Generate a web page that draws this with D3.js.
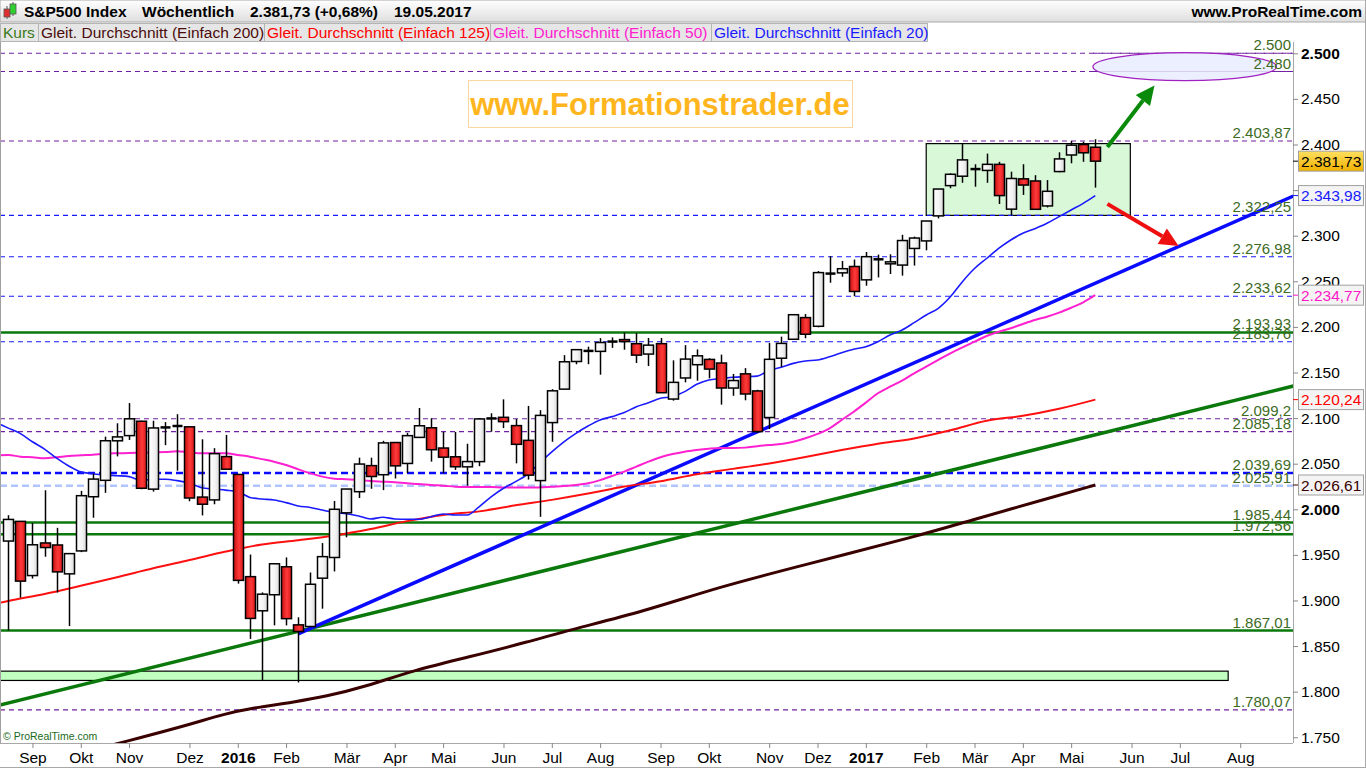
<!DOCTYPE html>
<html><head><meta charset="utf-8">
<script src="https://cdn.jsdelivr.net/npm/d3@7"></script>
<style>body{margin:0;background:#fff;overflow:hidden}svg{display:block;font-family:"Liberation Sans",Arial,sans-serif}</style>
</head><body><svg id="c" width="1366" height="768"></svg>
<script>
// ---------------- DATA ----------------
const firstWeek = "2015-08-24"; // Monday of first weekly candle
const open  = [1965.15,1986.73,1927.30,1963.06,1960.84,1929.18,1954.33,2013.73,2031.73,2075.08,2080.76,2096.56,2022.08,2089.41,2090.95,2090.42,2013.37,2010.27,2057.77,2038.20,1926.12,1888.66,1906.28,1936.94,1873.25,1871.44,1924.44,1947.13,1996.11,2019.27,2047.88,2037.89,2073.19,2050.23,2078.83,2089.37,2067.17,2057.55,2046.53,2052.23,2100.13,2100.83,2091.75,2075.58,2031.45,2095.05,2131.72,2162.04,2173.71,2173.15,2183.76,2186.08,2181.58,2170.19,2181.61,2120.86,2143.99,2158.54,2164.33,2160.39,2132.95,2148.50,2129.78,2100.59,2165.64,2186.43,2210.21,2200.65,2258.83,2259.24,2266.23,2251.57,2273.59,2269.14,2267.78,2286.01,2294.28,2321.72,2354.91,2365.23,2373.50,2371.56,2378.24,2329.11,2362.34,2360.00,2332.62,2370.33,2388.50,2399.94,2397.00];
const high  = [1993.48,1986.73,1985.00,2020.86,1979.64,1951.83,2020.13,2039.12,2079.66,2094.32,2116.48,2097.00,2097.06,2095.61,2104.27,2090.42,2076.72,2067.00,2081.56,2038.20,1950.33,1908.85,1940.24,1947.20,1881.60,1930.68,1962.96,2009.13,2022.37,2056.60,2056.60,2075.07,2073.19,2083.82,2111.05,2099.89,2084.87,2084.87,2071.88,2100.00,2105.26,2120.55,2099.00,2113.32,2108.71,2131.71,2169.05,2175.63,2178.29,2187.66,2188.45,2193.81,2193.42,2187.87,2187.87,2163.30,2179.99,2175.30,2165.60,2169.60,2148.44,2154.79,2131.00,2182.30,2189.28,2214.10,2214.10,2261.20,2277.53,2272.30,2273.82,2282.10,2279.27,2279.60,2300.99,2299.00,2316.10,2351.31,2368.40,2400.98,2378.30,2390.01,2381.00,2370.20,2378.36,2366.37,2361.00,2391.43,2403.87,2403.00,2405.77];
const low   = [1867.01,1903.07,1924.00,1948.00,1908.77,1871.91,1953.00,1990.73,2018.00,2058.00,2076.00,2022.00,2019.39,2070.29,2042.35,2008.80,1993.26,2005.50,2043.62,1918.46,1857.83,1812.29,1872.70,1872.65,1810.10,1871.44,1891.00,1931.81,1969.25,2012.34,2022.49,2021.00,2033.80,2039.74,2078.46,2052.28,2039.45,2043.13,2025.91,2047.26,2085.05,2089.00,2050.37,2032.57,1991.68,2074.02,2131.72,2159.01,2159.07,2147.58,2177.00,2175.00,2160.39,2157.03,2127.81,2119.12,2139.17,2141.00,2143.60,2114.72,2124.43,2119.50,2083.79,2088.00,2156.08,2186.43,2187.50,2199.50,2248.44,2255.00,2233.62,2245.13,2254.25,2258.00,2256.20,2267.21,2284.00,2319.00,2352.00,2358.00,2353.70,2358.00,2334.80,2322.25,2344.73,2328.95,2331.00,2369.50,2379.40,2381.00,2352.72];
const close = [1988.87,1921.22,1961.05,1958.03,1931.34,1951.36,2014.89,2033.11,2075.15,2079.36,2099.20,2023.04,2089.17,2090.11,2091.69,2012.37,2005.55,2060.99,2043.94,1922.03,1880.33,1906.90,1940.24,1880.05,1866.00,1917.78,1948.05,1999.99,2022.19,2049.58,2035.94,2072.78,2047.60,2080.73,2091.58,2065.30,2057.14,2046.61,2052.32,2099.06,2099.13,2096.07,2071.22,2037.41,2102.95,2129.90,2161.74,2175.03,2173.60,2182.87,2184.05,2183.87,2169.04,2179.98,2127.81,2139.16,2164.69,2168.27,2153.74,2132.98,2141.16,2126.41,2085.18,2164.45,2181.90,2213.35,2191.95,2259.53,2258.07,2263.79,2238.83,2276.98,2274.64,2271.31,2294.69,2297.42,2316.10,2351.16,2367.34,2383.12,2372.60,2378.25,2343.98,2362.72,2355.54,2328.95,2348.69,2384.20,2399.29,2390.90,2381.73];

// moving averages, weekly from index -1
const sma20 = [2095,2089,2083,2074,2066,2056,2047.5,2041,2039,2037.6,2036.8,2035.8,2031.4,2033,2033,2031.4,2028.5,2023.7,2022.2,2021,2019.3,2013,2011.3,2010.2,2007.3,2003.6,2002,1999.2,1996.3,1995,1992.7,1989.4,1991.2,1989.4,1989,1989,1991.9,1994.8,1993.7,1993.7,2003,2013.8,2023,2030.3,2038.4,2051,2063,2074,2083.3,2091.3,2098,2101.6,2106,2112.5,2116.9,2121.7,2123.5,2129,2137,2141.8,2143.2,2144.7,2145.4,2146,2152.3,2155.7,2160,2162.6,2163.7,2167.3,2171.7,2175.4,2178.3,2183.8,2191.1,2196.6,2204.6,2213,2220.4,2233,2249.6,2264,2275,2286,2295.3,2302.6,2307.7,2313.6,2320.9,2328.2,2335.5,2343.98];
const sma50 = [2059,2059.5,2057.7,2057,2056,2057,2058.4,2059.2,2059.9,2061,2061.4,2061.7,2062.1,2062.5,2062.8,2063.6,2062.5,2061.4,2061.4,2061.4,2059.5,2057.7,2055,2052.2,2048.6,2043.9,2039.5,2035.8,2033.6,2032.9,2032,2031,2030.3,2029.6,2028.5,2027.7,2026.6,2025.9,2024.8,2024.4,2024.4,2024.4,2024,2024,2024,2024,2024.8,2025.5,2026.6,2028.5,2032,2036.5,2041.3,2046.8,2052.2,2057,2060.6,2063.2,2065,2066.4,2067.2,2067.2,2067.6,2069.2,2070.5,2071.6,2074,2077.8,2082.6,2088.8,2097.9,2107,2116.9,2127.2,2134.4,2141,2149.1,2156.4,2163.7,2171,2177.6,2183.8,2190,2194.7,2198.5,2203.2,2207.6,2211.2,2215.6,2221,2227,2234.77];
const sma125Weeks = [-1,0,3,6,9,12,15,18,21,24,27,30,33,36,39,42,45,48,51,54,57,60,63,66,69,72,75,78,81,84,87,90];
const sma125 = [1896.7,1899.5,1907.1,1916.1,1925.5,1935.3,1944.3,1953.6,1961.4,1966.1,1971.3,1978.4,1987,1993.8,1997.7,2004.3,2010.3,2017.2,2024.9,2030.8,2038.5,2044.3,2050.3,2057.3,2064.9,2071.9,2077.7,2086.6,2097.1,2102.5,2110.2,2120.24];
const sma200Weeks = [8,9.15,14.38,18.11,20.09,23.85,26.21,29.59,33.65,38.05,43.11,46.49,52.57,58.92,65.55,75.9,79.21,86.25,90];
const sma200 = [1739.5,1743.4,1761.6,1776.3,1781.8,1789.0,1794.5,1805.5,1823.8,1837.7,1854.8,1867.7,1887.7,1915.1,1937.7,1972.9,1986.1,2012.4,2026.61];

// horizontal levels
const purpleLevels = [2500, 2480, 2403.87, 2099.2, 2085.18, 1780.07];
const blueLevels   = [2322.25, 2276.98, 2233.62, 2183.76];
const greenLevels  = [2193.93, 1985.44, 1972.56, 1867.01];
const blueBoldLevels = [2039.69];
const lightBlueLevels = [2025.91];
const levelLabels = {2500:"2.500",2480:"2.480",2403.87:"2.403,87",2099.2:"2.099,2",2085.18:"2.085,18",1780.07:"1.780,07",2322.25:"2.322,25",2276.98:"2.276,98",2233.62:"2.233,62",2183.76:"2.183,76",2193.93:"2.193,93",1985.44:"1.985,44",1972.56:"1.972,56",1867.01:"1.867,01",2039.69:"2.039,69",2025.91:"2.025,91"};

// trend lines: [week index, value]
const blueTrend  = [[24, 1863.3], [106.4, 2343.5]];
const greenTrend = [[-0.7, 1785.4], [106.4, 2135.2]];
// consolidation box, band, target ellipse, arrows (week index / value)
const boxWeeks = [76.0, 92.9], boxValues = [2322.25, 2400.98];
const bandWeeks = [-1, 101.0], bandValues = [1812.29, 1822.5];
const ellipseWeeks = [89.8, 105.0], ellipseValues = [2470, 2500.7];
const upArrow   = [[91.0, 2397.3], [94.9, 2464.7]];
const downArrow = [[91.0, 2334.9], [96.9, 2288.7]];

const yTicks = [1750,1800,1850,1900,1950,2000,2050,2100,2150,2200,2250,2300,2350,2400,2450,2500];
const boldTicks = [2000, 2500];
const monthNames = ["2016","Feb","Mär","Apr","Mai","Jun","Jul","Aug","Sep","Okt","Nov","Dez"];
const lastTags = [
  {v:2381.73, t:"2.381,73", c:"#000"},
  {v:2343.98, t:"2.343,98", c:"#1a1aff"},
  {v:2234.77, t:"2.234,77", c:"#ff18c8"},
  {v:2120.24, t:"2.120,24", c:"#ff0000"},
  {v:2026.61, t:"2.026,61", c:"#3a0000"}
];
const headerParts = ["S&P500 Index","Wöchentlich","2.381,73 (+0,68%)","19.05.2017"];
const legendItems = ["Kurs","Gleit. Durchschnitt (Einfach 200)","Gleit. Durchschnitt (Einfach 125)","Gleit. Durchschnitt (Einfach 50)","Gleit. Durchschnitt (Einfach 20)"];

// ---------------- DRAW ----------------
const svg = d3.select("#c");
const L = 0, R = 1293, T = 42, B = 743;
const x = d3.scaleLinear().domain([0, 90]).range([8.3, 1095.3]);
const y = d3.scaleLinear().domain([1743.7, 2512.4]).range([B, T]);
const t0 = d3.timeParse("%Y-%m-%d")(firstWeek);

const defs = svg.append("defs");
defs.append("clipPath").attr("id","plot").append("rect").attr("x",L).attr("y",T).attr("width",R-L).attr("height",B-T);
const gW = defs.append("linearGradient").attr("id","gw");
gW.append("stop").attr("offset","0%").attr("stop-color","#ffffff");
gW.append("stop").attr("offset","60%").attr("stop-color","#f2f2f2");
gW.append("stop").attr("offset","100%").attr("stop-color","#d6d6d6");
const gR = defs.append("linearGradient").attr("id","gr");
gR.append("stop").attr("offset","0%").attr("stop-color","#c81010");
gR.append("stop").attr("offset","55%").attr("stop-color","#ff3a3a");
gR.append("stop").attr("offset","100%").attr("stop-color","#d81818");
const gH = defs.append("linearGradient").attr("id","gh").attr("x2",0).attr("y2",1);
gH.append("stop").attr("offset","0%").attr("stop-color","#ffffff");
gH.append("stop").attr("offset","100%").attr("stop-color","#dedede");
const gY = defs.append("linearGradient").attr("id","gy").attr("x2",0).attr("y2",1);
gY.append("stop").attr("offset","0%").attr("stop-color","#ffe060");
gY.append("stop").attr("offset","100%").attr("stop-color","#f0b000");

svg.append("rect").attr("width",1366).attr("height",768).attr("fill","#fff");

// header
svg.append("rect").attr("x",0).attr("y",0).attr("width",1366).attr("height",22).attr("fill","url(#gh)").attr("stroke","#a8a8a8");
const ico = svg.append("g");
ico.append("line").attr("x1",7).attr("x2",7).attr("y1",6).attr("y2",19).attr("stroke","#555");
ico.append("rect").attr("x",4).attr("y",9).attr("width",6).attr("height",8).attr("fill","#e03030").attr("stroke","#555").attr("stroke-width",0.8);
ico.append("line").attr("x1",13).attr("x2",13).attr("y1",2).attr("y2",16).attr("stroke","#555");
ico.append("rect").attr("x",10).attr("y",4).attr("width",6).attr("height",10).attr("fill","#30d030").attr("stroke","#555").attr("stroke-width",0.8);
const hx = [24, 142, 250, 394];
headerParts.forEach((t,i)=>svg.append("text").attr("x",hx[i]).attr("y",17).attr("font-size",15.5).attr("font-weight","bold").attr("fill","#000").text(t));
svg.append("text").attr("x",1362).attr("y",17).attr("text-anchor","end").attr("font-size",15.5).attr("font-weight","bold").text("www.ProRealTime.com");

// legend row
const legX = [0,38,264,490,711,927];
const legC = ["#3a7a1a","#4a0c0c","#ff0000","#ff20d0","#1a1aff"];
legendItems.forEach((t,i)=>{
  svg.append("rect").attr("x",legX[i]+0.5).attr("y",23.5).attr("width",legX[i+1]-legX[i]).attr("height",18).attr("fill","#e6e6e6").attr("stroke","#b4b4b4");
  svg.append("text").attr("x",legX[i]+3).attr("y",38).attr("font-size",15.5).attr("fill",legC[i]).text(t);
});

const plot = svg.append("g").attr("clip-path","url(#plot)");

// band & box
plot.append("rect").attr("x",x(bandWeeks[0])).attr("y",y(bandValues[1])).attr("width",x(bandWeeks[1])-x(bandWeeks[0])).attr("height",y(bandValues[0])-y(bandValues[1])).attr("fill","#c0ffc0").attr("stroke","#000").attr("stroke-width",1.2);
plot.append("rect").attr("x",x(boxWeeks[0])).attr("y",y(boxValues[1])).attr("width",x(boxWeeks[1])-x(boxWeeks[0])).attr("height",y(boxValues[0])-y(boxValues[1])).attr("fill","#d8f8d8").attr("stroke","#000").attr("stroke-width",1.2);

// levels
function hline(v, color, w, dash){
  plot.append("line").attr("x1",L).attr("x2",R).attr("y1",y(v)).attr("y2",y(v)).attr("stroke",color).attr("stroke-width",w).attr("stroke-dasharray",dash||null);
}
purpleLevels.forEach(v=>hline(v,"#7020a0",1.1,"5,4"));
blueLevels.forEach(v=>hline(v,"#1a1aff",1.1,"5,4"));
lightBlueLevels.forEach(v=>hline(v,"#b0c4ff",2.5,"7,4"));
blueBoldLevels.forEach(v=>hline(v,"#0a0aff",2.5,"7,4"));
greenLevels.forEach(v=>hline(v,"#0a780a",2.5,null));

// ellipse
const ecx = (x(ellipseWeeks[0])+x(ellipseWeeks[1]))/2, ecy = (y(ellipseValues[0])+y(ellipseValues[1]))/2;
svg.append("ellipse").attr("cx",ecx).attr("cy",ecy).attr("rx",(x(ellipseWeeks[1])-x(ellipseWeeks[0]))/2).attr("ry",(y(ellipseValues[0])-y(ellipseValues[1]))/2).attr("fill","#e8ecff").attr("fill-opacity",0.85).attr("stroke","#a020c0").attr("stroke-width",1.3);
[2500,2480].forEach(v=>plot.append("line").attr("x1",x(ellipseWeeks[0])).attr("x2",R).attr("y1",y(v)).attr("y2",y(v)).attr("stroke","#7020a0").attr("stroke-width",1.1).attr("stroke-dasharray","5,4"));

// level labels
Object.keys(levelLabels).forEach(k=>{
  const v = +k;
  svg.append("text").attr("x",1291).attr("y",y(v)-3).attr("text-anchor","end").attr("font-size",15).attr("fill","#3d6b1f").text(levelLabels[k]);
});

// trend lines
const tl = d3.line().x(d=>x(d[0])).y(d=>y(d[1]));
plot.append("path").attr("d",tl(greenTrend)).attr("stroke","#0a780a").attr("stroke-width",3.5).attr("fill","none");
plot.append("path").attr("d",tl(blueTrend)).attr("stroke","#0a0aff").attr("stroke-width",3.5).attr("fill","none");

// moving averages
const maLine = d3.line().x(d=>x(d[0])).y(d=>y(d[1])).curve(d3.curveMonotoneX);
const maSmooth = d3.line().x(d=>x(d[0])).y(d=>y(d[1])).curve(d3.curveBasis);
plot.append("path").attr("d",maSmooth(sma200.map((v,i)=>[sma200Weeks[i],v]))).attr("stroke","#3a0000").attr("stroke-width",3).attr("fill","none");
plot.append("path").attr("d",maLine(sma125.map((v,i)=>[sma125Weeks[i],v]))).attr("stroke","#ff1010").attr("stroke-width",2).attr("fill","none");
plot.append("path").attr("d",maLine(sma50.map((v,i)=>[i-1,v]))).attr("stroke","#ff20d0").attr("stroke-width",2).attr("fill","none");
plot.append("path").attr("d",maLine(sma20.map((v,i)=>[i-1,v]))).attr("stroke","#1a1aff").attr("stroke-width",1.6).attr("fill","none");

// candles
const bw = 10;
const cg = plot.append("g");
close.forEach((c,i)=>{
  const o = open[i], up = c >= o, cx = Math.round(x(i))+0.5;
  cg.append("line").attr("x1",cx).attr("x2",cx).attr("y1",y(high[i])).attr("y2",y(low[i])).attr("stroke","#000").attr("stroke-width",1.5);
  const top = y(Math.max(o,c)), bot = y(Math.min(o,c));
  if (bot - top < 1.5) {
    cg.append("line").attr("x1",cx-bw/2).attr("x2",cx+bw/2).attr("y1",(top+bot)/2).attr("y2",(top+bot)/2).attr("stroke","#000").attr("stroke-width",2.5);
  } else {
    cg.append("rect").attr("x",cx-bw/2).attr("y",top).attr("width",bw).attr("height",bot-top).attr("fill",up?"url(#gw)":"url(#gr)").attr("stroke","#000").attr("stroke-width",1.5);
  }
});

// arrows
function arrow(a, color){
  const x1=x(a[0][0]), y1=y(a[0][1]), x2=x(a[1][0]), y2=y(a[1][1]);
  const ang = Math.atan2(y2-y1, x2-x1), hl = 19, hw = 9;
  const bx = x2 - hl*Math.cos(ang), by = y2 - hl*Math.sin(ang);
  svg.append("line").attr("x1",x1).attr("y1",y1).attr("x2",bx).attr("y2",by).attr("stroke",color).attr("stroke-width",4);
  const p = [[x2,y2],[bx+hw*Math.sin(ang), by-hw*Math.cos(ang)],[bx-hw*Math.sin(ang), by+hw*Math.cos(ang)]];
  svg.append("path").attr("d","M"+p.join("L")+"Z").attr("fill",color);
}
arrow(upArrow,"#0a8a0a");
arrow(downArrow,"#ee1010");

// watermark
svg.append("rect").attr("x",468.5).attr("y",80.5).attr("width",384).attr("height",47).attr("fill","#fff").attr("stroke","#f8d8a0");
svg.append("text").attr("x",660).attr("y",115).attr("text-anchor","middle").attr("font-size",31).attr("font-weight","bold").attr("fill","#ffb61e").text("www.Formationstrader.de");

// frame & axes
svg.append("line").attr("x1",0.5).attr("x2",0.5).attr("y1",T).attr("y2",B).attr("stroke","#a0a0a0");
svg.append("line").attr("x1",R+0.5).attr("x2",R+0.5).attr("y1",T).attr("y2",B).attr("stroke","#a8a8a8");
svg.append("line").attr("x1",0).attr("x2",R).attr("y1",B+0.5).attr("y2",B+0.5).attr("stroke","#a8a8a8");
svg.append("line").attr("x1",1365.5).attr("x2",1365.5).attr("y1",0).attr("y2",768).attr("stroke","#a8a8a8");
svg.append("line").attr("x1",0).attr("x2",1366).attr("y1",767.5).attr("y2",767.5).attr("stroke","#a8a8a8");

const yAx = svg.append("g").attr("transform",`translate(${R},0)`)
  .call(d3.axisRight(y).tickValues(yTicks).tickSize(5).tickPadding(3).tickFormat(d=>d3.format(",")(d).replace(",",".")));
yAx.select(".domain").remove();
yAx.selectAll("line").attr("stroke","#888");
yAx.selectAll("text").attr("font-size",15.5).attr("font-family","Liberation Sans, Arial, sans-serif").attr("fill","#000")
  .attr("font-weight",d=>boldTicks.includes(d)?"bold":"normal");

// month ticks on week index (until Aug 2017)
const mTicks = [], mLabels = [];
for (let i = 1; i <= 104; i++) {
  const d = d3.timeWeek.offset(t0, i), p = d3.timeWeek.offset(t0, i-1);
  if (d.getMonth() !== p.getMonth()) { mTicks.push(i); mLabels.push(d.getMonth()===0 ? String(d.getFullYear()) : monthNames[d.getMonth()]); }
}
const xAx = svg.append("g").attr("transform",`translate(0,${B})`)
  .call(d3.axisBottom(x).tickValues(mTicks).tickSize(5).tickPadding(4).tickFormat((d,i)=>mLabels[i]));
xAx.select(".domain").remove();
xAx.selectAll("line").attr("stroke","#888");
xAx.selectAll("text").attr("font-size",15.5).attr("font-family","Liberation Sans, Arial, sans-serif").attr("fill","#000")
  .attr("font-weight",(d,i)=>/^\d+$/.test(mLabels[i])?"bold":"normal");

svg.append("text").attr("x",3).attr("y",740).attr("font-size",10.5).attr("fill","#1a6a1a").text("© ProRealTime.com");

// last value tags
lastTags.forEach((d,i)=>{
  const cy = y(d.v);
  svg.append("line").attr("x1",R).attr("x2",R+5).attr("y1",cy).attr("y2",cy).attr("stroke",d.c);
  svg.append("rect").attr("x",1298.5).attr("y",cy-10).attr("width",65).attr("height",20).attr("fill",i===0?"url(#gy)":"#f4f4f4").attr("stroke","#a0a0a0");
  svg.append("text").attr("x",1301).attr("y",cy+5.5).attr("font-size",15.5).attr("fill",d.c).text(d.t);
});
</script></body></html>
